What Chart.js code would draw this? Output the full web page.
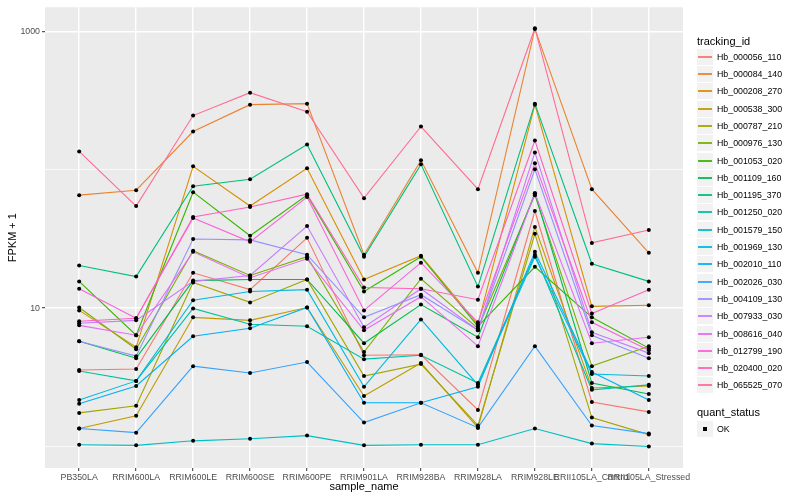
<!DOCTYPE html>
<html>
<head>
<meta charset="utf-8">
<script src="https://cdn.jsdelivr.net/npm/chart.js@4.4.0/dist/chart.umd.min.js"></script>
<style>
html, body { margin: 0; padding: 0; background: #fff; }
#wrap { position: relative; width: 800px; height: 500px; font-family: "Liberation Sans", Arial, Helvetica, sans-serif; }
#chart { position: absolute; left: 0; top: 0; }
.ltitle { position: absolute; left: 697px; font-size: 11px; color: #000; line-height: 14px; white-space: nowrap; }
.key { position: absolute; left: 697px; width: 16px; height: 16px; background: #F2F2F2; }
.key span { position: absolute; left: 1px; width: 14px; top: 7px; height: 2px; opacity: 0.9; }
.key i { position: absolute; left: 6px; top: 6px; width: 4px; height: 4px; background: #000; }
.ltext { position: absolute; left: 717px; font-size: 8.8px; color: #000; height: 16px; line-height: 16px; white-space: nowrap; }
</style>
</head>
<body>
<div id="wrap">
  <canvas id="chart" width="800" height="500"></canvas>
  <div id="legend"></div>
</div>
<script>
const samples = ['PB350LA', 'RRIM600LA', 'RRIM600LE', 'RRIM600SE', 'RRIM600PE', 'RRIM901LA',
  'RRIM928BA', 'RRIM928LA', 'RRIM928LE', 'RRII105LA_Control', 'RRII105LA_Stressed'];

const trackingIds = ['Hb_000056_110', 'Hb_000084_140', 'Hb_000208_270', 'Hb_000538_300', 'Hb_000787_210',
  'Hb_000976_130', 'Hb_001053_020', 'Hb_001109_160', 'Hb_001195_370', 'Hb_001250_020',
  'Hb_001579_150', 'Hb_001969_130', 'Hb_002010_110', 'Hb_002026_030', 'Hb_004109_130',
  'Hb_007933_030', 'Hb_008616_040', 'Hb_012799_190', 'Hb_020400_020', 'Hb_065525_070'];

const colors = ['#F8766D', '#EA8331', '#D89000', '#C09B00', '#A3A500', '#7CAE00', '#39B600', '#00BB4E',
  '#00BF7D', '#00C1A3', '#00BFC4', '#00BAE0', '#00B0F6', '#35A2FF', '#9590FF', '#C77CFF',
  '#E76BF3', '#FA62DB', '#FF62BC', '#FF6C91'];

// FPKM + 1, one value per sample
const hb000056_110 = [3.57, 3.63, 18.0, 13.6, 32.2, 4.57, 4.6, 1.84, 50.3, 2.10, 1.78];
const hb000084_140 = [65.5, 71.1, 188.6, 295, 300, 24.3, 116.8, 18.0, 1040, 72.3, 25.1];
const hb000208_270 = [9.63, 5.22, 105.7, 54.6, 102.3, 16.1, 23.9, 7.64, 295, 10.3, 10.5];
const hb000538_300 = [1.35, 1.67, 8.58, 8.16, 10.1, 2.32, 4.01, 1.37, 38.6, 2.65, 2.74];
const hb000787_210 = [1.75, 1.97, 15.3, 11.0, 16.1, 3.23, 3.94, 1.42, 34.4, 1.62, 1.22];
const hb000976_130 = [10.1, 5.05, 26.0, 17.2, 23.5, 4.81, 16.3, 7.15, 65.5, 3.81, 5.31];
const hb001053_020 = [15.6, 6.37, 68.8, 33.3, 65.5, 13.2, 23.5, 7.39, 19.9, 8.58, 5.14];
const hb001109_160 = [5.77, 4.35, 15.8, 16.1, 16.1, 5.58, 10.6, 6.16, 67.7, 2.88, 2.40];
const hb001195_370 = [20.3, 16.9, 76.0, 85.3, 152, 23.5, 109.3, 14.3, 300, 20.9, 15.6];
const hb001250_020 = [3.51, 2.98, 9.95, 7.64, 7.39, 4.28, 4.57, 2.88, 24.3, 2.57, 2.79];
const hb001579_150 = [1.03, 1.02, 1.10, 1.14, 1.20, 1.02, 1.03, 1.03, 1.35, 1.05, 1.00];
const hb001969_130 = [2.17, 2.98, 11.4, 13.2, 13.6, 2.70, 8.29, 2.79, 23.5, 3.34, 3.23];
const hb002010_110 = [2.04, 2.74, 6.26, 7.15, 10.1, 2.07, 2.07, 2.70, 25.5, 3.45, 2.17];
const hb002026_030 = [1.35, 1.26, 3.81, 3.40, 4.08, 1.49, 2.07, 1.37, 5.31, 1.42, 1.24];
const hb004109_130 = [5.77, 4.50, 31.6, 31.1, 24.3, 8.58, 12.5, 6.92, 100.7, 6.37, 4.35];
const hb007933_030 = [7.77, 8.16, 15.6, 17.2, 39.2, 7.27, 13.8, 6.92, 133.3, 6.69, 4.73];
const hb008616_040 = [7.51, 6.37, 25.5, 16.6, 22.7, 6.92, 12.1, 5.31, 67.7, 5.58, 6.16];
const hb012799_190 = [13.8, 8.44, 44.8, 30.1, 63.4, 9.63, 21.3, 7.90, 111.2, 7.90, 4.97];
const hb020400_020 = [8.03, 8.44, 45.5, 53.7, 66.6, 14.1, 13.8, 11.5, 162.6, 9.16, 13.6];
const hb065525_070 = [135.6, 54.6, 246, 360, 262.5, 62.3, 205, 72.3, 1052, 29.6, 36.7];

const seriesValues = [hb000056_110, hb000084_140, hb000208_270, hb000538_300, hb000787_210,
  hb000976_130, hb001053_020, hb001109_160, hb001195_370, hb001250_020,
  hb001579_150, hb001969_130, hb002010_110, hb002026_030, hb004109_130,
  hb007933_030, hb008616_040, hb012799_190, hb020400_020, hb065525_070];

const yTicks = [1, 10, 100, 1000];
const yLabelled = [10, 1000];

const datasets = trackingIds.map((id, i) => ({
  type: 'line',
  label: id,
  data: seriesValues[i].map((v, j) => ({ x: j, y: v })),
  borderColor: colors[i],
  borderWidth: 1.1,
  pointRadius: 0,
  fill: false,
  tension: 0,
  order: trackingIds.length - i
}));

const okPoints = [];
seriesValues.forEach(s => s.forEach((v, j) => okPoints.push({ x: j, y: v })));
datasets.push({
  type: 'scatter',
  label: 'OK',
  data: okPoints,
  pointRadius: 2,
  pointBackgroundColor: '#000',
  pointBorderWidth: 0,
  order: 0
});

const panelBg = {
  id: 'panelBg',
  beforeDraw(chart) {
    const { ctx, chartArea: a } = chart;
    ctx.save();
    ctx.fillStyle = '#EBEBEB';
    ctx.fillRect(a.left, a.top, a.right - a.left, a.bottom - a.top);
    ctx.restore();
  }
};

const isMajor = v => yLabelled.includes(v);

new Chart(document.getElementById('chart'), {
  type: 'line',
  data: { datasets: datasets },
  options: {
    responsive: false,
    animation: false,
    devicePixelRatio: 1,
    layout: { padding: { top: 5, right: 117, left: 0, bottom: 0 } },
    plugins: { legend: { display: false }, tooltip: { enabled: false } },
    scales: {
      x: {
        type: 'linear',
        min: -0.6,
        max: 10.6,
        afterBuildTicks: scale => { scale.ticks = samples.map((s, i) => ({ value: i })); },
        afterFit: scale => { scale.height = 32; },
        ticks: {
          autoSkip: false,
          maxRotation: 0,
          minRotation: 0,
          padding: 1,
          color: '#4D4D4D',
          font: { family: '"Liberation Sans", Arial, sans-serif', size: 8.8 },
          callback: v => samples[v]
        },
        grid: { color: '#FFFFFF', lineWidth: 1.4, tickColor: '#333333', tickLength: 3, tickWidth: 1 },
        border: { display: false },
        title: {
          display: true,
          text: 'sample_name',
          color: '#000',
          font: { family: '"Liberation Sans", Arial, sans-serif', size: 11 },
          padding: { top: 0, bottom: 6 }
        }
      },
      y: {
        type: 'logarithmic',
        min: 0.706,
        max: 1490,
        afterBuildTicks: scale => { scale.ticks = yTicks.map(v => ({ value: v })); },
        afterFit: scale => { scale.width = 45; },
        ticks: {
          padding: 2,
          color: '#4D4D4D',
          font: { family: '"Liberation Sans", Arial, sans-serif', size: 8.8 },
          callback: v => isMajor(v) ? String(v) : ''
        },
        grid: {
          color: '#FFFFFF',
          lineWidth: ctx => (ctx.tick && isMajor(ctx.tick.value)) ? 1.4 : 0.7,
          tickColor: ctx => (ctx.tick && isMajor(ctx.tick.value)) ? '#333333' : 'rgba(0,0,0,0)',
          tickLength: 3,
          tickWidth: 1
        },
        border: { display: false },
        title: {
          display: true,
          text: 'FPKM + 1',
          color: '#000',
          font: { family: '"Liberation Sans", Arial, sans-serif', size: 11 },
          padding: { top: 6, bottom: 0 }
        }
      }
    }
  },
  plugins: [panelBg]
});

// legend
const legend = document.getElementById('legend');
let html = '<div class="ltitle" style="top:34px">tracking_id</div>';
trackingIds.forEach((id, i) => {
  const top = Math.round(56.7 + 17.3 * i - 8);
  html += '<div class="key" style="top:' + top + 'px"><span style="background:' + colors[i] + '"></span></div>';
  html += '<div class="ltext" style="top:' + top + 'px">' + id + '</div>';
});
html += '<div class="ltitle" style="top:405px">quant_status</div>';
html += '<div class="key" style="top:421px"><i></i></div>';
html += '<div class="ltext" style="top:421px">OK</div>';
legend.innerHTML = html;
</script>
</body>
</html>
